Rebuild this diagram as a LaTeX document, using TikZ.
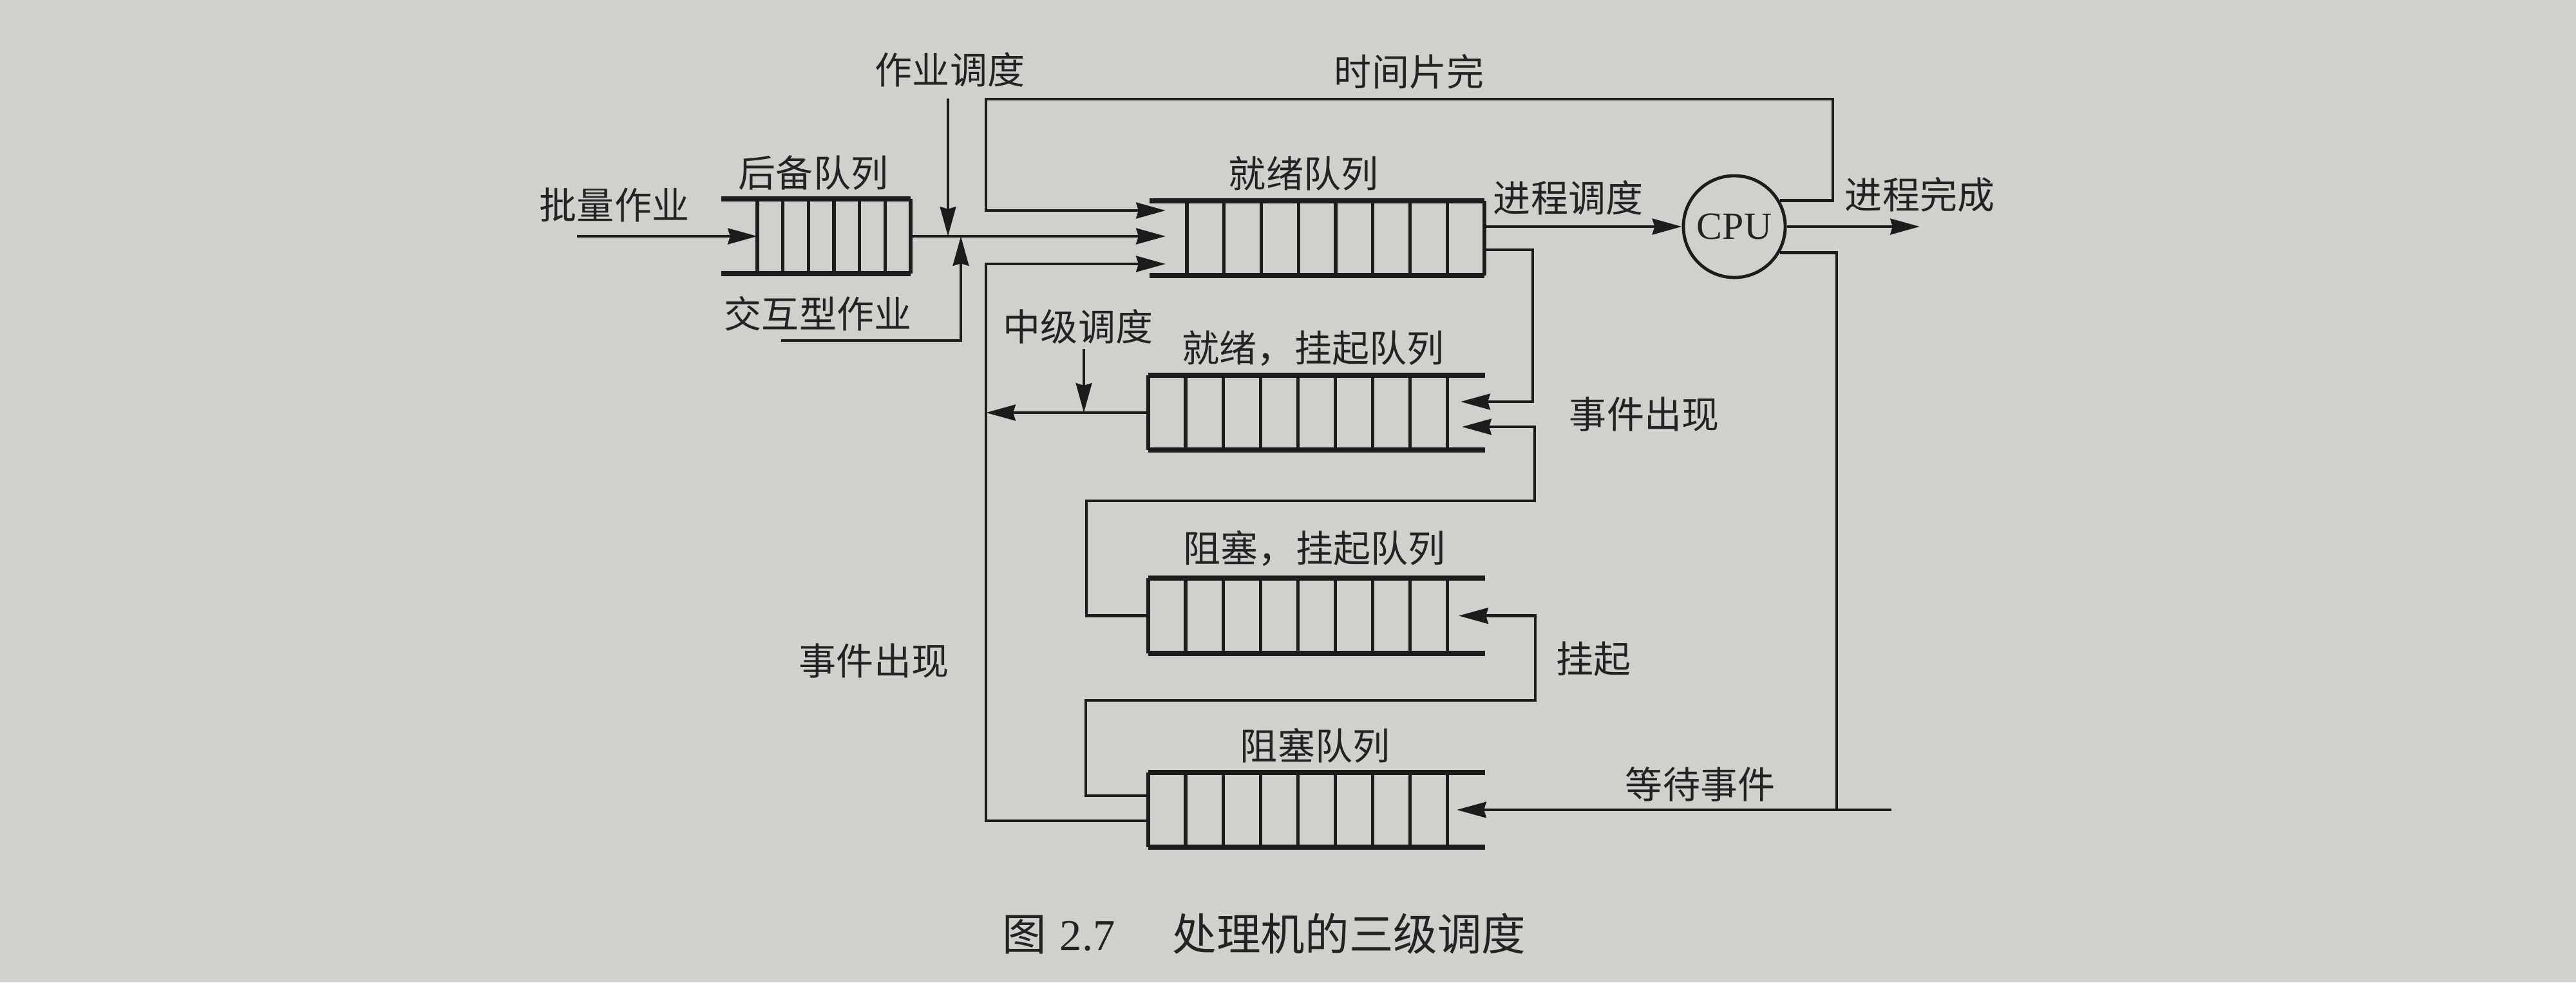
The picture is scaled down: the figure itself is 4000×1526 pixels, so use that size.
\documentclass[tikz,border=0pt]{standalone}
\usepackage{fontspec}
\setmainfont{Liberation Serif}
\newfontfamily\cjk{Noto Sans CJK SC}
\usetikzlibrary{arrows.meta,calc,fit}
\definecolor{bgc}{RGB}{208,208,205}
\definecolor{ink}{RGB}{28,28,28}
\definecolor{txt}{RGB}{35,35,35}
\tikzset{
  lbl/.style={font=\cjk\fontsize{16.5}{18}\selectfont, text=txt, inner sep=0pt},
  qh/.style={line width=2.2pt, draw=ink},
  qv/.style={line width=1.5pt, draw=ink},
  conn/.style={line width=1.3pt, draw=ink},
  arr/.style={conn, -{Stealth[length=13pt,width=7pt,inset=1pt]}},
  qarea/.style={inner sep=0pt, outer sep=0pt, draw=none},
}
% name, xL, xR, yTop, yBot, first vertical x, step, count-1
\newcommand\myqueue[8]{%
  \node[qarea, fit={(#2,#4) (#3,#5)}] (#1) {};
  \draw[qh] (#2,#4) -- (#3,#4) (#2,#5) -- (#3,#5);
  \foreach \k in {0,...,#8} \draw[qv] ({#6+\k*#7},#4) -- ({#6+\k*#7},#5);
}
\begin{document}
\begin{tikzpicture}[x=0.01cm,y=-0.01cm]
\fill[bgc] (0,0) rectangle (4000,1526);
\useasboundingbox (0,0) rectangle (4000,1526);

% queues
\myqueue{bq}{1120}{1414}{309}{425}{1176}{39.67}{6}
\myqueue{rq}{1785}{2305}{312}{428}{1843}{57.75}{8}
\myqueue{rsq}{1783}{2306}{583}{699}{1783}{58.1}{8}
\myqueue{bsq}{1783}{2306}{898}{1015}{1783}{58.1}{8}
\myqueue{blq}{1783}{2306}{1200}{1316}{1783}{58.1}{8}

% CPU
\node[draw=ink, line width=1.4pt, circle, minimum size=1.58cm, inner sep=0pt,
      font=\fontsize{17}{18}\selectfont, text=txt] (cpu) at (2693,352) {CPU};

% labels
\node[lbl] (l-zy) at (1475,108) {作业调度};
\node[lbl] (l-hb) at (1263,268) {后备队列};
\node[lbl] (l-pl) at (954,318) {批量作业};
\node[lbl] (l-jh) at (1270,487) {交互型作业};
\node[lbl] (l-sj) at (2188,111) {时间片完};
\node[lbl] (l-jx) at (2024,270) {就绪队列};
\node[lbl] (l-jc) at (2435,307) {进程调度};
\node[lbl] (l-wc) at (2981,302) {进程完成};
\node[lbl] (l-zj) at (1674,507) {中级调度};
\node[lbl] (l-jg) at (2039,541) {就绪，挂起队列};
\node[lbl] (l-ev1) at (2553,644) {事件出现};
\node[lbl] (l-zg) at (2041,852) {阻塞，挂起队列};
\node[lbl] (l-gq) at (2474,1024) {挂起};
\node[lbl] (l-ev2) at (1357,1027) {事件出现};
\node[lbl] (l-zs) at (2042,1158) {阻塞队列};
\node[lbl] (l-dd) at (2640,1218) {等待事件};
\node[font=\cjk\fontsize{19.5}{21}\selectfont, text=txt, inner sep=0pt] (cap) at (1963,1450)
  {图\hspace{0.3em}{\rmfamily 2.7}\hspace{1.3em}处理机的三级调度};

% connectors
\coordinate (batchin) at (896,367);
\draw[arr] (batchin) -- ($(bq.west)+(56,0)$);
\coordinate (rqin) at ($(rq.west)+(25,0)$);
\draw[arr] (bq.east) -- (bq.east -| rqin);
\coordinate (js) at (1472,153);
\draw[arr] (js) -- (js |- bq.east);
\coordinate (ia) at (1213,529);
\coordinate (iaj) at (1492,367);
\draw[arr] (ia) -| (iaj);
\coordinate (tsR) at (2846,154);
\coordinate (tsL) at (1531,154);
\draw[arr] (cpu.30) -| (tsR) -- (tsL) |- ($(rqin)+(0,-43)$);
\draw[arr] (rq.east |- cpu.west) -- (cpu.west);
\coordinate (done) at (2981,352);
\draw[arr] (cpu.east) -- (done);
\coordinate (weR) at (2852,1258);
\coordinate (weS) at (2937,1258);
\draw[arr] (cpu.-30) -| (weR) -- ($(blq.east)+(-44,0)$);
\draw[conn] (weR) -- (weS);
\draw[arr] ($(rq.east)+(0,18)$) -- ++(75,0) |- ($(rsq.east)+(-38,-17)$);
\coordinate (evR) at (2383,778);
\draw[arr] (bsq.west) -- ++(-96,0) |- (evR) |- ($(rsq.east)+(-36,22)$);
\coordinate (suR) at (2384,1088);
\draw[arr] ($(blq.west)+(0,-22)$) -- ++(-97,0) |- (suR) |- ($(bsq.east)+(-41,0)$);
\coordinate (bigtop) at (1531,410);
\draw[arr] (rsq.west) -- (rsq.west -| bigtop);
\draw[arr] ($(blq.west)+(0,17)$) -| (bigtop) -- ($(rqin)+(0,40)$);
\coordinate (ms) at (1683,542);
\draw[arr] (ms) -- (ms |- rsq.west);
\end{tikzpicture}
\end{document}
